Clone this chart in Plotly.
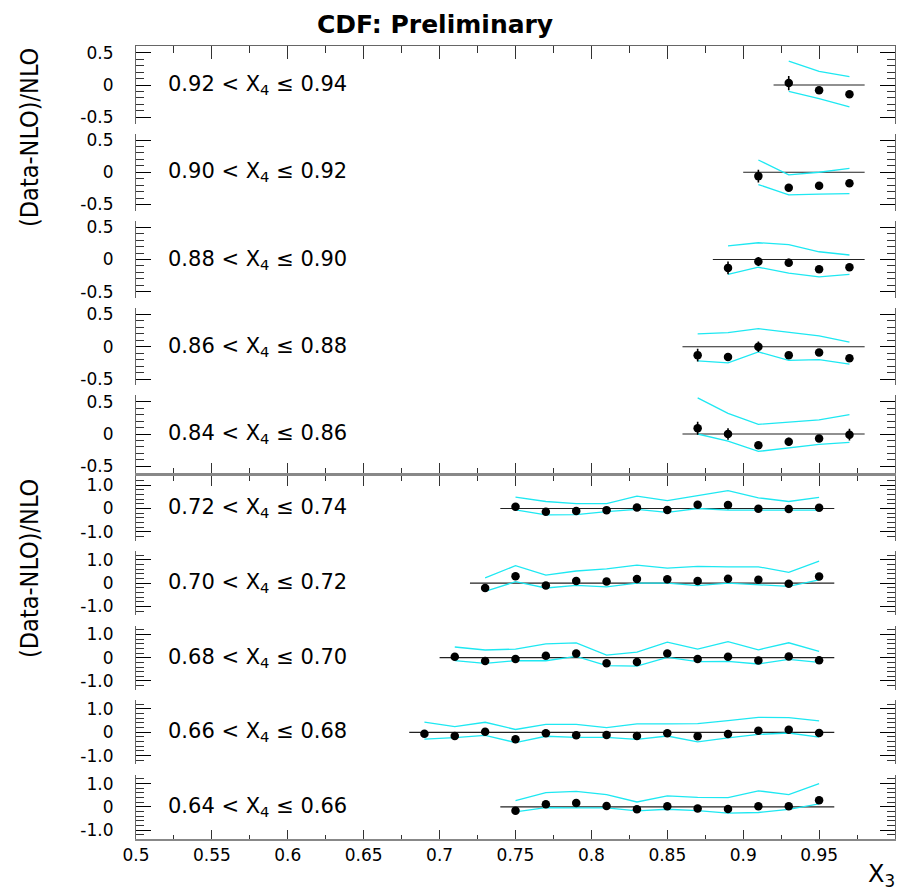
import plotly.graph_objects as go

# ---------------- data ----------------
x4_labels = ["0.92 < X<sub>4</sub> ≤ 0.94", "0.90 < X<sub>4</sub> ≤ 0.92",
             "0.88 < X<sub>4</sub> ≤ 0.90", "0.86 < X<sub>4</sub> ≤ 0.88",
             "0.84 < X<sub>4</sub> ≤ 0.86",
             "0.72 < X<sub>4</sub> ≤ 0.74", "0.70 < X<sub>4</sub> ≤ 0.72",
             "0.68 < X<sub>4</sub> ≤ 0.70", "0.66 < X<sub>4</sub> ≤ 0.68",
             "0.64 < X<sub>4</sub> ≤ 0.66"]

# x3 bin ranges (for the zero reference line)
x3_edges = [(0.92, 0.98), (0.90, 0.98), (0.88, 0.98), (0.86, 0.98), (0.86, 0.98),
            (0.74, 0.96), (0.72, 0.96), (0.70, 0.96), (0.68, 0.96), (0.74, 0.96)]

p1_x = [0.93, 0.95, 0.97]
p1_y = [0.03, -0.08, -0.145]
p1_e = [0.11, 0.05, 0.05]
p1_up = [0.37, 0.21, 0.13]
p1_lo = [-0.10, -0.21, -0.34]

p2_x = [0.91, 0.93, 0.95, 0.97]
p2_y = [-0.06, -0.24, -0.21, -0.17]
p2_e = [0.10, 0.04, 0.03, 0.05]
p2_up = [0.19, -0.04, 0.0, 0.06]
p2_lo = [-0.19, -0.35, -0.34, -0.33]

p3_x = [0.89, 0.91, 0.93, 0.95, 0.97]
p3_y = [-0.13, -0.03, -0.05, -0.15, -0.12]
p3_e = [0.10, 0.07, 0.06, 0.03, 0.05]
p3_up = [0.21, 0.26, 0.23, 0.12, 0.07]
p3_lo = [-0.23, -0.12, -0.21, -0.27, -0.23]

p4_x = [0.87, 0.89, 0.91, 0.93, 0.95, 0.97]
p4_y = [-0.13, -0.16, 0.0, -0.13, -0.09, -0.18]
p4_e = [0.10, 0.06, 0.08, 0.05, 0.04, 0.05]
p4_up = [0.20, 0.22, 0.28, 0.23, 0.17, 0.07]
p4_lo = [-0.22, -0.25, -0.08, -0.21, -0.20, -0.27]

p5_x = [0.87, 0.89, 0.91, 0.93, 0.95, 0.97]
p5_y = [0.09, 0.0, -0.175, -0.12, -0.07, -0.01]
p5_e = [0.10, 0.09, 0.05, 0.06, 0.05, 0.09]
p5_up = [0.56, 0.32, 0.15, 0.18, 0.22, 0.30]
p5_lo = [0.0, -0.11, -0.27, -0.22, -0.16, -0.13]

p6_x = [0.75, 0.77, 0.79, 0.81, 0.83, 0.85, 0.87, 0.89, 0.91, 0.93, 0.95]
p6_y = [0.07, -0.14, -0.11, -0.07, 0.04, -0.06, 0.16, 0.15, -0.01, -0.02, 0.03]
p6_e = [0.10, 0.07, 0.07, 0.06, 0.07, 0.06, 0.08, 0.09, 0.06, 0.06, 0.07]
p6_up = [0.49, 0.30, 0.21, 0.21, 0.53, 0.34, 0.55, 0.77, 0.46, 0.30, 0.48]
p6_lo = [-0.06, -0.27, -0.26, -0.13, -0.04, -0.17, 0.0, -0.07, -0.07, -0.07, -0.07]

p7_x = [0.73, 0.75, 0.77, 0.79, 0.81, 0.83, 0.85, 0.87, 0.89, 0.91, 0.93, 0.95]
p7_y = [-0.21, 0.29, -0.10, 0.09, 0.07, 0.18, 0.17, 0.09, 0.19, 0.14, -0.03, 0.28]
p7_e = [0.07, 0.14, 0.08, 0.08, 0.07, 0.08, 0.08, 0.07, 0.08, 0.07, 0.06, 0.10]
p7_up = [0.22, 0.75, 0.34, 0.52, 0.61, 0.77, 0.64, 0.72, 0.70, 0.70, 0.46, 0.94]
p7_lo = [-0.36, 0.06, -0.21, -0.10, -0.16, 0.0, 0.0, -0.11, 0.0, -0.06, -0.14, 0.14]

p8_x = [0.71, 0.73, 0.75, 0.77, 0.79, 0.81, 0.83, 0.85, 0.87, 0.89, 0.91, 0.93, 0.95]
p8_y = [0.04, -0.14, -0.06, 0.08, 0.18, -0.24, -0.18, 0.18, -0.06, 0.04, -0.12, 0.05, -0.11]
p8_e = [0.10, 0.06, 0.08, 0.10, 0.12, 0.06, 0.06, 0.10, 0.06, 0.06, 0.06, 0.07, 0.06]
p8_up = [0.46, 0.33, 0.37, 0.59, 0.64, 0.11, 0.24, 0.67, 0.37, 0.69, 0.34, 0.64, 0.27]
p8_lo = [-0.13, -0.24, -0.13, -0.13, 0.06, -0.34, -0.36, 0.01, -0.17, -0.16, -0.27, -0.07, -0.20]

p9_x = [0.69, 0.71, 0.73, 0.75, 0.77, 0.79, 0.81, 0.83, 0.85, 0.87, 0.89, 0.91, 0.93, 0.95]
p9_y = [-0.06, -0.16, 0.02, -0.30, -0.04, -0.13, -0.12, -0.16, -0.04, -0.17, -0.07, 0.07, 0.11, -0.03]
p9_e = [0.06, 0.08, 0.09, 0.06, 0.07, 0.06, 0.06, 0.06, 0.06, 0.06, 0.06, 0.06, 0.07, 0.06]
p9_up = [0.44, 0.24, 0.43, 0.12, 0.34, 0.34, 0.20, 0.36, 0.36, 0.37, 0.50, 0.64, 0.63, 0.49]
p9_lo = [-0.29, -0.23, -0.13, -0.44, -0.17, -0.22, -0.22, -0.30, -0.16, -0.41, -0.24, -0.09, -0.03, -0.21]

p10_x = [0.75, 0.77, 0.79, 0.81, 0.83, 0.85, 0.87, 0.89, 0.91, 0.93, 0.95]
p10_y = [-0.16, 0.11, 0.17, 0.04, -0.10, 0.03, -0.07, -0.09, 0.03, 0.03, 0.29]
p10_e = [0.08, 0.09, 0.12, 0.07, 0.06, 0.06, 0.06, 0.06, 0.06, 0.06, 0.12]
p10_up = [0.27, 0.61, 0.67, 0.53, 0.21, 0.47, 0.41, 0.40, 0.69, 0.53, 1.00]
p10_lo = [-0.21, -0.03, -0.04, -0.04, -0.17, -0.10, -0.16, -0.27, -0.24, -0.11, 0.13]

x_tickvals = [0.5, 0.55, 0.6, 0.65, 0.7, 0.75, 0.8, 0.85, 0.9, 0.95, 1.0]
x_ticktext = ["0.5", "0.55", "0.6", "0.65", "0.7", "0.75", "0.8", "0.85", "0.9", "0.95", "1"]
upper_tickvals = [-0.5, 0, 0.5]
upper_ticktext = ["-0.5", "0", "0.5"]
lower_tickvals = [-1.0, 0, 1.0]
lower_ticktext = ["-1.0", "0", "1.0"]

panels = [
    (p1_x, p1_y, p1_e, p1_up, p1_lo), (p2_x, p2_y, p2_e, p2_up, p2_lo),
    (p3_x, p3_y, p3_e, p3_up, p3_lo), (p4_x, p4_y, p4_e, p4_up, p4_lo),
    (p5_x, p5_y, p5_e, p5_up, p5_lo), (p6_x, p6_y, p6_e, p6_up, p6_lo),
    (p7_x, p7_y, p7_e, p7_up, p7_lo), (p8_x, p8_y, p8_e, p8_up, p8_lo),
    (p9_x, p9_y, p9_e, p9_up, p9_lo), (p10_x, p10_y, p10_e, p10_up, p10_lo),
]

# ---------------- layout geometry ----------------
W, H = 898, 890
XL, XR = 136, 895
upper_zero = [85, 172.25, 259.5, 346.75, 434]
lower_zero = [508.5, 583.1, 657.7, 732.3, 806.9]
UP_R, UP_SCALE = 0.6, 64.5
LO_R, LO_SCALE = 1.38, 23.3

CYAN = "#1ee8f2"
FONTFAM = "DejaVu Sans, Liberation Sans, Arial"
TICKFONT = dict(family=FONTFAM, size=17, color="black")
LINEC = "#666666"

fig = go.Figure()
layout = dict(
    width=W, height=H, margin=dict(l=0, r=0, t=0, b=0),
    paper_bgcolor="white", plot_bgcolor="white", showlegend=False,
    template="none",
)

annotations = []

for i, (xs, ys, es, ups, los) in enumerate(panels):
    k = i + 1
    upper = i < 5
    z = upper_zero[i] if upper else lower_zero[i - 5]
    r = UP_R if upper else LO_R
    half = r * (UP_SCALE if upper else LO_SCALE)
    xa = "x" if k == 1 else f"x{k}"
    ya = "y" if k == 1 else f"y{k}"

    lo_edge, hi_edge = x3_edges[i]
    fig.add_trace(go.Scatter(x=[lo_edge, hi_edge], y=[0, 0], mode="lines",
                             line=dict(color="#222222", width=1.2),
                             xaxis=xa, yaxis=ya, hoverinfo="skip"))
    fig.add_trace(go.Scatter(x=xs, y=ups, mode="lines", line=dict(color=CYAN, width=1.3),
                             xaxis=xa, yaxis=ya))
    fig.add_trace(go.Scatter(x=xs, y=los, mode="lines", line=dict(color=CYAN, width=1.3),
                             xaxis=xa, yaxis=ya))
    fig.add_trace(go.Scatter(x=xs, y=ys, mode="markers",
                             marker=dict(color="black", size=8.5, symbol="circle"),
                             error_y=dict(type="data", array=es, visible=True,
                                          color="black", thickness=1.6, width=0),
                             xaxis=xa, yaxis=ya))

    ykey = "yaxis" if k == 1 else f"yaxis{k}"
    xkey = "xaxis" if k == 1 else f"xaxis{k}"
    layout[ykey] = dict(
        domain=[1 - (z + half) / H, 1 - (z - half) / H],
        range=[-r, r], anchor=xa,
        tickvals=upper_tickvals if upper else lower_tickvals,
        ticktext=upper_ticktext if upper else lower_ticktext,
        ticks="inside", ticklen=15, tickwidth=1.2, tickcolor="black",
        minor=dict(ticks="inside", ticklen=8, tickwidth=1, tickcolor="#333333",
                   dtick=0.1 if upper else 0.2, tick0=0, showgrid=False),
        showline=True, linecolor=LINEC, linewidth=1.2, mirror="ticks",
        showgrid=False, zeroline=False, tickfont=TICKFONT,
        ticklabelstandoff=18, automargin=False, fixedrange=True,
    )
    xdef = dict(
        domain=[XL / W, XR / W], range=[0.5, 1.0], anchor=ya,
        showgrid=False, zeroline=False, automargin=False, fixedrange=True,
    )
    if k in (1, 5, 6, 10):
        long_, short_ = {1: (13, 7), 5: (10, 5), 6: (10, 5), 10: (9, 4)}[k]
        xdef.update(
            side="top" if k in (1, 6) else "bottom",
            showline=True, linecolor="#888888" if k != 1 else LINEC,
            linewidth=1.6 if k != 1 else 1.2,
            tickvals=x_tickvals, ticktext=x_ticktext,
            ticks="inside", ticklen=long_, tickwidth=1.2, tickcolor="#333333",
            minor=dict(ticks="inside", ticklen=short_, tickwidth=1, dtick=0.025,
                       tick0=0.5, tickcolor="#333333", showgrid=False),
            showticklabels=(k == 10), tickfont=TICKFONT,
        )
    else:
        xdef.update(showline=False, ticks="", showticklabels=False)
    layout[xkey] = xdef

    annotations.append(dict(
        text=x4_labels[i], x=0.52, y=0, xref=xa, yref=ya,
        xanchor="left", yanchor="middle", showarrow=False,
        font=dict(family=FONTFAM, size=21, color="black"),
    ))

# title & axis titles
annotations.append(dict(text="<b>CDF: Preliminary</b>", x=435 / W, y=1 - 25 / H,
                        xref="paper", yref="paper", xanchor="center", yanchor="middle",
                        showarrow=False,
                        font=dict(family=FONTFAM, size=25, color="black")))
ytitle_font = dict(family="DejaVu Sans Condensed, Liberation Sans Narrow, Liberation Sans",
                   size=25, color="black")
annotations.append(dict(text="(Data-NLO)/NLO", x=29 / W, y=1 - 138 / H,
                        xref="paper", yref="paper", xanchor="center", yanchor="middle",
                        textangle=-90, showarrow=False, font=ytitle_font))
annotations.append(dict(text="(Data-NLO)/NLO", x=29 / W, y=1 - 569 / H,
                        xref="paper", yref="paper", xanchor="center", yanchor="middle",
                        textangle=-90, showarrow=False, font=ytitle_font))
annotations.append(dict(text="X<sub>3</sub>", x=897 / W, y=1 - 875 / H,
                        xref="paper", yref="paper", xanchor="right", yanchor="middle",
                        showarrow=False,
                        font=dict(family=FONTFAM, size=24, color="black")))

layout["annotations"] = annotations
fig.update_layout(**layout)
fig.write_html("out.html")
